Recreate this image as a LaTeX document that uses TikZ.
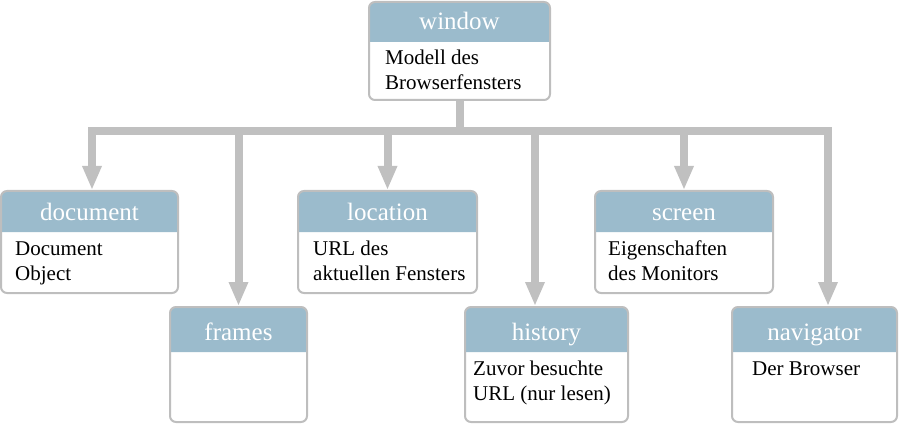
\documentclass[tikz,border=0pt]{standalone}
\usepackage{fontspec}
\setmainfont{Liberation Serif}
\usetikzlibrary{arrows.meta}
\definecolor{hdr}{RGB}{155,187,204}
\definecolor{framegray}{RGB}{190,190,190}
\definecolor{conn}{RGB}{192,192,192}
\tikzset{
  boxframe/.style={draw=framegray, line width=2pt, rounded corners=6pt, inner sep=0pt},
  titletext/.style={font=\fontsize{25}{25}\selectfont, text=white, anchor=base, inner sep=0pt},
  bodytext/.style={font=\fontsize{21}{25}\selectfont, anchor=base west, inner sep=0pt},
  barline/.style={draw=conn, line width=8pt, line cap=rect},
  trunk/.style={draw=conn, line width=8pt},
  arr/.style={draw=conn, line width=8pt, -{Triangle[width=18pt,length=24pt]}},
}
% name, x1, y1, x2, y2, yh, title, text offset, body
\newcommand\objbox[9]{%
  \fill[white, rounded corners=6pt] (#2,#3) rectangle (#4,#5);
  \fill[hdr] (#2,#6) [rounded corners=6pt]-- (#2,#3) -- (#4,#3) [sharp corners]-- (#4,#6) -- cycle;
  \node[boxframe, minimum width={(#4)-(#2)}, minimum height={(#5)-(#3)}] (#1) at ({(#2+#4)/2},{(#3+#5)/2}) {};
  \node[titletext] (#1-title) at ({(#2+#4)/2},{#6-12}) {#7};
  \node[bodytext] (#1-body) at ({#2+#8},{#6+23}) {\begin{tabular}[t]{@{}l@{}}#9\end{tabular}};
}
\begin{document}
\begin{tikzpicture}[x=1pt,y=-1pt]
\useasboundingbox (0,0) rectangle (900,425);
\objbox{window}{369}{2}{550}{100}{42}{window}{16}{Modell des\\Browserfensters}
\objbox{document}{1}{191}{178}{293}{232}{document}{14}{Document\\Object}
\objbox{location}{298}{191}{477}{293}{232}{location}{15}{URL des\\aktuellen Fensters}
\objbox{screen}{595}{191}{773}{293}{232}{screen}{13}{Eigenschaften\\des Monitors}
\objbox{frames}{170}{307}{307}{422}{352}{frames}{10}{}
\objbox{history}{465}{307}{628}{422}{352}{history}{8}{Zuvor besuchte\\URL (nur lesen)}
\objbox{navigator}{732}{307}{897}{422}{352}{navigator}{20}{Der Browser}
\coordinate (barL) at (92,131);
\coordinate (barR) at (828,131);
\coordinate (hx) at (535,131);
\draw[barline] (barL) -- (barR);
\draw[trunk] (window.south) -- (window.south |- barL);
\draw[arr] (barL) -- (barL |- document.north);
\draw[arr] (frames.north |- barL) -- (frames.north);
\draw[arr] (location.north |- barL) -- (location.north);
\draw[arr] (hx) -- (hx |- history.north);
\draw[arr] (screen.north |- barL) -- (screen.north);
\draw[arr] (barR) -- (barR |- navigator.north);
\end{tikzpicture}
\end{document}
